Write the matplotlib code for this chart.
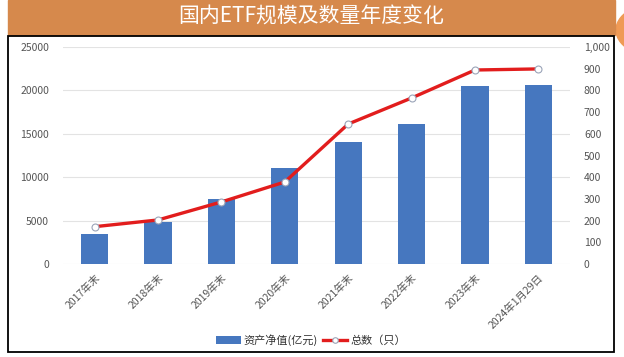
import matplotlib
matplotlib.use("Agg")
import matplotlib.pyplot as plt
from matplotlib.patches import Rectangle, Wedge
from matplotlib.ticker import FuncFormatter

plt.rcParams['font.family'] = ['Noto Sans CJK SC', 'DejaVu Sans']

# data
categories = ['2017年末', '2018年末', '2019年末', '2020年末', '2021年末',
              '2022年末', '2023年末', '2024年1月29日']
net_assets = [3450, 4850, 7500, 11050, 14050, 16150, 20450, 20650]   # 亿元
fund_count = [172, 203, 286, 378, 645, 765, 894, 899]                 # 只

W, H = 624, 357
fig = plt.figure(figsize=(W / 100, H / 100), dpi=100)
fig.patch.set_facecolor('white')

# orange swoosh peeking out at the top right, then the title banner
fig.patches.append(Wedge((668 / W, 1 - 30 / H), 52 / W, 130, 230, width=12 / W,
                         transform=fig.transFigure, color='#ef9a55', zorder=0))
fig.patches.append(Rectangle((8 / W, 1 - 35 / H), 607 / W, 35 / H,
                             transform=fig.transFigure, color='#d6894c', zorder=1))
fig.text(311 / W, 1 - 17 / H, '国内ETF规模及数量年度变化', color='white',
         fontsize=15, ha='center', va='center')
# chart box
fig.patches.append(Rectangle((8 / W, 1 - 352 / H), 606 / W, 316 / H,
                             transform=fig.transFigure, fill=False,
                             edgecolor='black', linewidth=1.3, zorder=2))

ax = fig.add_axes([63 / W, 1 - 264 / H, 507 / W, 217 / H])
x = range(len(categories))
bars = ax.bar(x, net_assets, width=0.43, color='#4677bf', zorder=2,
              label='资产净值(亿元)')
ax.set_xlim(-0.5, 7.5)
ax.set_ylim(0, 25000)
ax.set_yticks(range(0, 25001, 5000))
ax.grid(axis='y', color='#e3e3e3', linewidth=0.8, zorder=0)
for s in ax.spines.values():
    s.set_visible(False)
ax.tick_params(axis='y', length=0, labelsize=7.5, labelcolor='#555555', pad=10)
ax.set_xticks(list(x))
ax.set_xticklabels(categories, rotation=45, ha='right', rotation_mode='anchor',
                   fontsize=7.5, color='#555555')
ax.tick_params(axis='x', length=0, pad=6)

ax2 = ax.twinx()
line, = ax2.plot(x, fund_count, color='#e21d1d', linewidth=2.4, marker='o',
                 markersize=5, markerfacecolor='white',
                 markeredgecolor='#9aa4b8', markeredgewidth=0.8, zorder=3,
                 label='总数（只）')
ax2.set_ylim(0, 1000)
ax2.set_yticks(range(0, 1001, 100))
ax2.yaxis.set_major_formatter(FuncFormatter(lambda v, p: f'{int(v):,}'))
for s in ax2.spines.values():
    s.set_visible(False)
ax2.tick_params(axis='y', length=0, labelsize=7.5, labelcolor='#555555', pad=10)

fig.legend([bars, line], ['资产净值(亿元)', '总数（只）'], loc='center',
           bbox_to_anchor=(311 / W, 1 - 340 / H), ncol=2, frameon=False,
           fontsize=8, handlelength=2.2, columnspacing=0.4, handletextpad=0.3,
           labelcolor='#333333', markerscale=0.8)

fig.savefig('out.png', dpi=100)
